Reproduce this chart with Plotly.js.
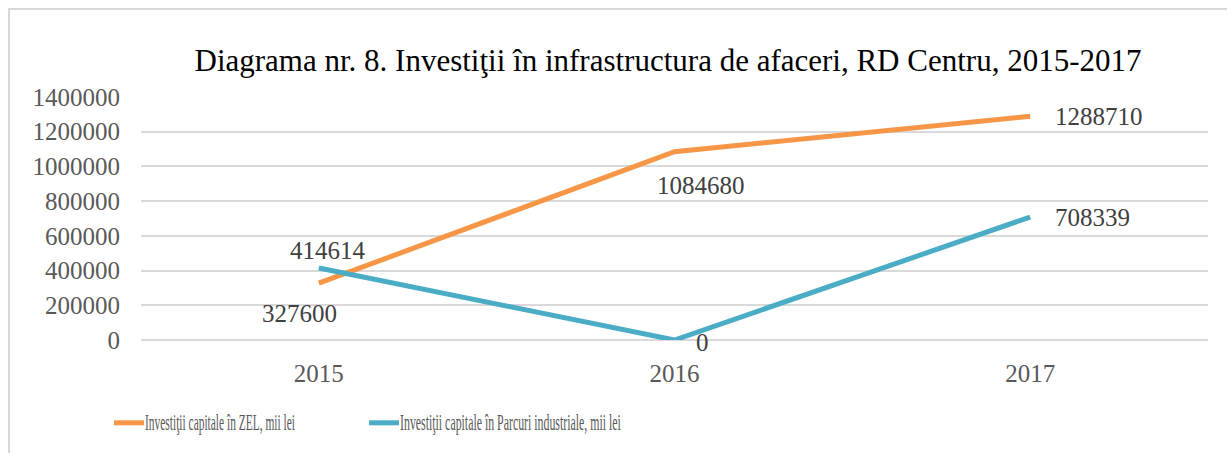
<!DOCTYPE html>
<html>
<head>
<meta charset="utf-8">
<script src="https://cdn.plot.ly/plotly-3.0.1.min.js"></script>
<style>
  html, body { margin: 0; padding: 0; background: #fff; }
  #wrap { position: relative; width: 1227px; height: 453px; overflow: hidden; }
  #chart { width: 1227px; height: 453px; }
  #frame { position: absolute; left: 8px; top: 8px; width: 1300px; height: 600px;
           border-top: 2px solid #d9d9d9; border-left: 2px solid #d9d9d9; pointer-events: none; }
</style>
</head>
<body>
<div id="wrap">
  <div id="chart"></div>
  <div id="frame"></div>
</div>
<script>
const years = ['2015', '2016', '2017'];
const zelValues = [327600, 1084680, 1288710];
const parcuriValues = [414614, 0, 708339];
const seriesNames = ['Investiţii capitale în ZEL, mii lei', 'Investiţii capitale în Parcuri industriale, mii lei'];
const yTicks = [0, 200000, 400000, 600000, 800000, 1000000, 1200000, 1400000];
const titleText = 'Diagrama nr. 8. Investiţii în infrastructura de afaceri, RD Centru, 2015-2017';

const FONT = 'Liberation Serif, DejaVu Serif, serif';
const colors = ['#F79646', '#4BACC6'];

const traces = [
  { x: years, y: zelValues, name: seriesNames[0], type: 'scatter', mode: 'lines',
    line: { color: colors[0], width: 5 }, hoverinfo: 'skip' },
  { x: years, y: parcuriValues, name: seriesNames[1], type: 'scatter', mode: 'lines',
    line: { color: colors[1], width: 5 }, hoverinfo: 'skip' }
];

// label offsets (pixels) per point
const zelShift = [[-19, -30], [26, -34], [69, 0]];
const parShift = [[9, 18], [28, -2], [62, 0]];
const annotations = [];
years.forEach((yr, i) => {
  // category axis: position i is the i-th category
  annotations.push({ x: i, y: zelValues[i], xref: 'x', yref: 'y', text: String(zelValues[i]),
    showarrow: false, xshift: zelShift[i][0], yshift: zelShift[i][1],
    font: { family: FONT, size: 25, color: '#404040' } });
  annotations.push({ x: i, y: parcuriValues[i], xref: 'x', yref: 'y', text: String(parcuriValues[i]),
    showarrow: false, xshift: parShift[i][0], yshift: parShift[i][1],
    font: { family: FONT, size: 25, color: '#404040' } });
});

const layout = {
  width: 1227, height: 453,
  margin: { l: 141, r: 19, t: 97, b: 113, autoexpand: false },
  paper_bgcolor: '#fff', plot_bgcolor: '#fff',
  font: { family: FONT, color: '#595959' },
  title: { text: titleText, font: { family: FONT, size: 31, color: '#000' },
           xref: 'container', yref: 'container', x: 668 / 1227, xanchor: 'center',
           y: 1 - 60 / 453, yanchor: 'middle' },
  xaxis: { type: 'category', range: [-0.5, 2.5], showgrid: false, zeroline: false, showline: false,
           ticks: '', tickfont: { family: FONT, size: 25, color: '#595959' }, ticklabelstandoff: 16,
           fixedrange: true },
  yaxis: { range: [0, 1400000], tickvals: yTicks, ticktext: yTicks.map(String),
           showgrid: true, gridcolor: '#d9d9d9', gridwidth: 2, zeroline: true, zerolinecolor: '#d9d9d9',
           zerolinewidth: 2, showline: false, ticks: '',
           tickfont: { family: FONT, size: 25, color: '#595959' }, ticklabelstandoff: 20, fixedrange: true },
  showlegend: true,
  legend: { orientation: 'h', x: (109 - 141) / 1068, xanchor: 'left', y: (340 - 423) / 243, yanchor: 'middle',
            font: { family: FONT, size: 22, color: '#595959' }, entrywidth: 210, entrywidthmode: 'pixels',
            bgcolor: 'rgba(0,0,0,0)' },
  annotations: annotations
};

const legendTextWidths = [150, 221];

Plotly.newPlot('chart', traces, layout, { displayModeBar: false, staticPlot: true }).then(gd => {
  // condensed legend text, as in the reference
  gd.querySelectorAll('.legend [clip-path]').forEach(el => el.removeAttribute('clip-path'));
  gd.querySelectorAll('.legend .legendtext').forEach((t, i) => {
    t.style.fontSize = '23px';
    t.style.fontFamily = FONT;
    t.setAttribute('x', 0);
    t.setAttribute('y', 7);
    const w = t.getComputedTextLength();
    const s = legendTextWidths[i] / w;
    t.setAttribute('transform', 'translate(36,0) scale(' + s.toFixed(4) + ',1)');
  });
});
</script>
</body>
</html>
